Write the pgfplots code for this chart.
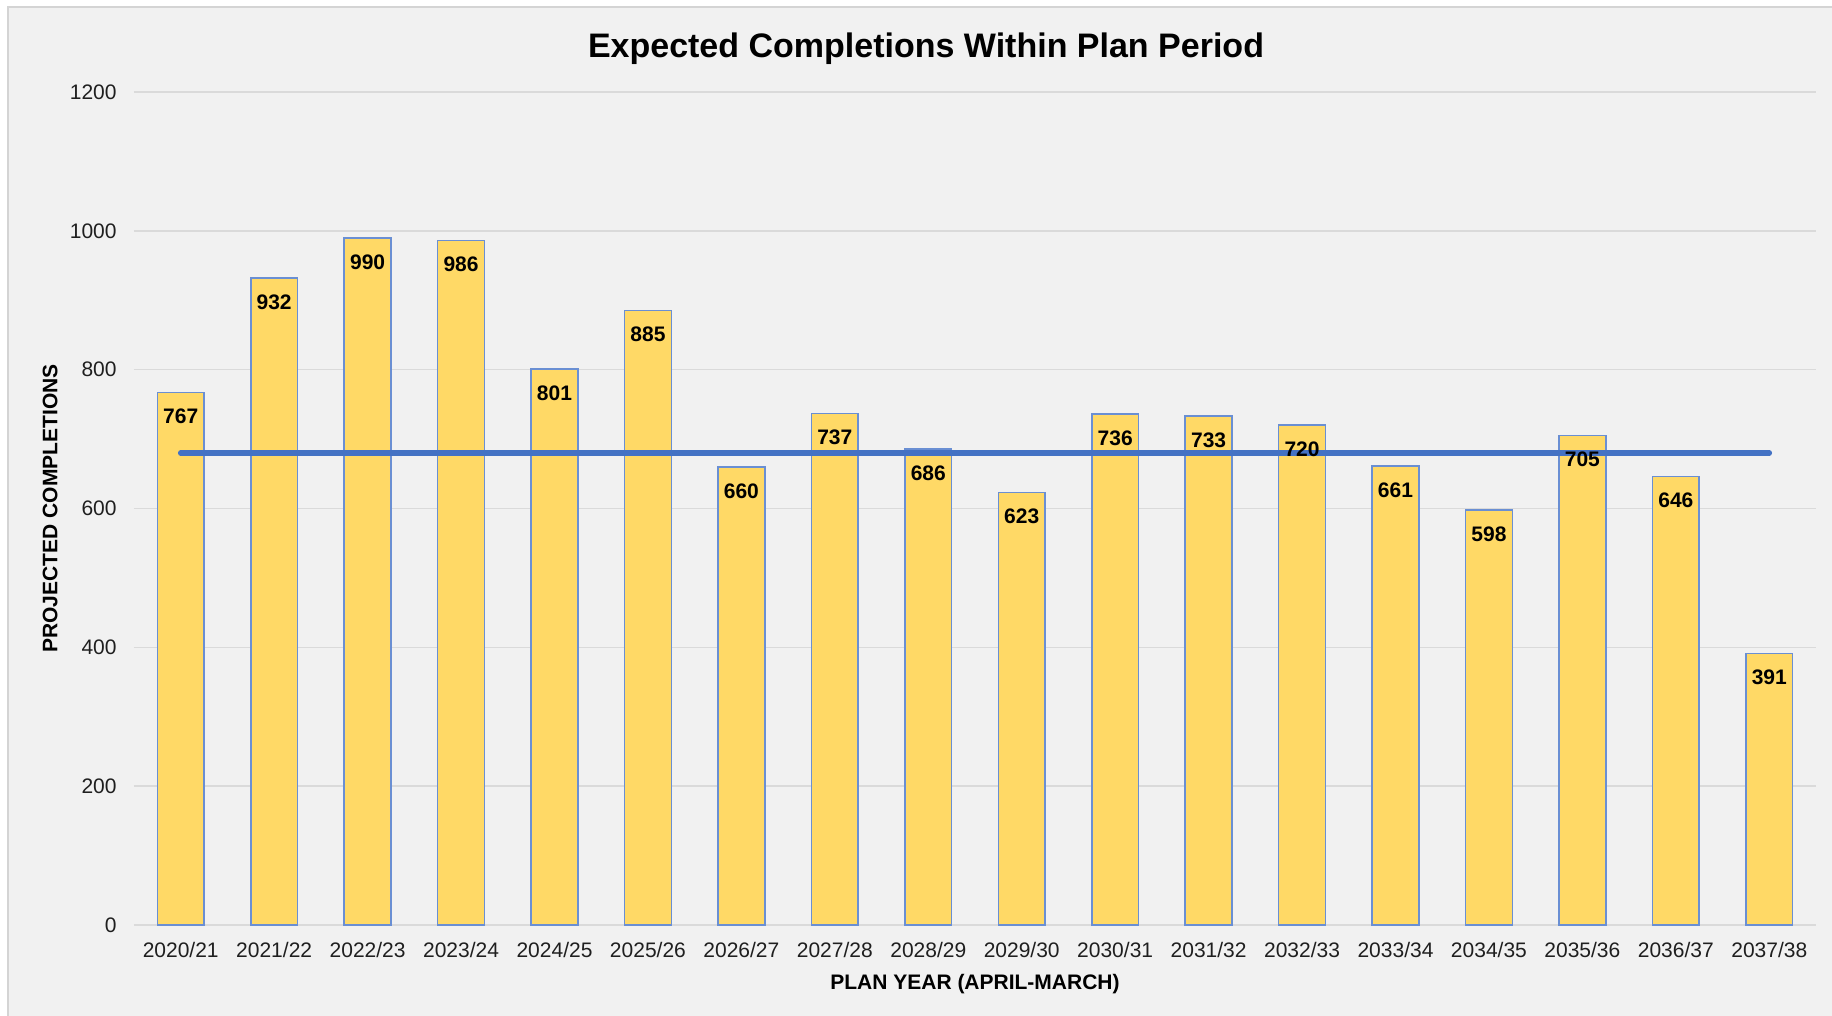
\documentclass[border=0pt]{standalone}
\usepackage{fontspec}
\setmainfont{Liberation Sans}
\usepackage{pgfplots}
\usepackage{pgfplotstable}
\pgfplotsset{compat=1.18}
\definecolor{bg}{HTML}{F1F1F1}
\definecolor{grd}{HTML}{DADADA}
\definecolor{barfill}{HTML}{FFD966}
\definecolor{barline}{HTML}{6A8FD3}
\definecolor{avgline}{HTML}{4472C4}
\definecolor{framec}{HTML}{D4D4D4}

\pgfplotstableread{
x y
0 767
1 932
2 990
3 986
4 801
5 885
6 660
7 737
8 686
9 623
10 736
11 733
12 720
13 661
14 598
15 705
16 646
17 391
}\data

\begin{document}
\begin{tikzpicture}
\path[use as bounding box] (-67pt,-45.5pt) rectangle (849pt,462.5pt);
\fill[white] (-67pt,-45.5pt) rectangle (849pt,462.5pt);
\fill[bg] (-63.5pt,-45.5pt) rectangle (849pt,459pt);
\draw[framec, line width=1pt] (-63pt,-45.5pt) -- (-63pt,459pt) -- (849pt,459pt);
\begin{axis}[
  at={(0,0)}, anchor=south west, scale only axis,
  width=841pt, height=416.5pt,
  xmin=-0.5, xmax=17.5, ymin=0, ymax=1200,
  ytick={0,200,...,1200},
  xtick={0,...,17},
  xticklabels={2020/21,2021/22,2022/23,2023/24,2024/25,2025/26,2026/27,2027/28,2028/29,2029/30,2030/31,2031/32,2032/33,2033/34,2034/35,2035/36,2036/37,2037/38},
  ymajorgrids, grid style={grd, line width=0.8pt},
  axis line style={draw=none}, tick style={draw=none},
  /pgf/number format/assume math mode=true,
  /pgf/number format/1000 sep={},
  tick label style={font=\fontsize{10.5}{12}\selectfont, text=black!88},
  yticklabel style={anchor=east, inner sep=0pt, xshift=-8.5pt},
  xticklabel style={anchor=north, inner sep=0pt, yshift=-8.2pt},
  xlabel={PLAN YEAR (APRIL-MARCH)},
  ylabel={PROJECTED COMPLETIONS},
  label style={font=\bfseries\fontsize{10.5}{12}\selectfont},
  xlabel style={at={(axis description cs:0.5,-0.0715)}, anchor=center},
  ylabel style={at={(axis description cs:-0.0499,0.5)}, anchor=center},
  clip=false,
]
\addplot[ybar, bar width=23.4pt, fill=barfill, draw=barline, line width=0.8pt] table[x=x,y=y]{\data};
\addplot[avgline, line width=2.8pt, line cap=round, mark=none] coordinates {(0,680) (17,680)};
\addplot[draw=none, mark=none, nodes near coords,
  nodes near coords style={anchor=north, yshift=-4.8pt, font=\bfseries\fontsize{10.5}{12}\selectfont, text=black}]
  table[x=x,y=y]{\data};
\end{axis}
\node[font=\bfseries\fontsize{17}{20}\selectfont] at (396pt,438.2pt) {Expected Completions Within Plan Period};
\end{tikzpicture}
\end{document}
